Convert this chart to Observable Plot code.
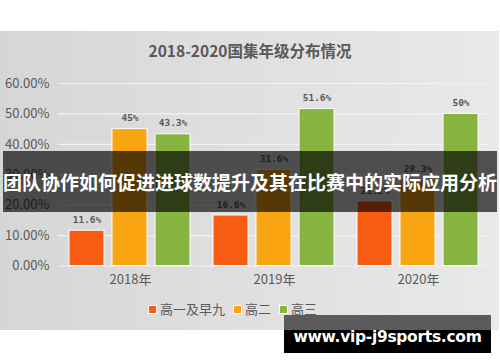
<!DOCTYPE html>
<html><head><meta charset="utf-8">
<script src="https://cdn.jsdelivr.net/npm/d3@7"></script>
<script src="https://cdn.jsdelivr.net/npm/@observablehq/plot@0.6"></script>
<style>
body{margin:0;background:#fff;font-family:"Noto Sans CJK SC","Noto Sans",sans-serif;}
#wrap{position:relative;width:500px;height:362px;overflow:hidden;background:#fff;}
#panel{position:absolute;left:0;top:31px;width:499px;height:299px;background:linear-gradient(to right,#d6d6d6,#e9e9e9);}
#title{position:absolute;left:0;top:39px;width:500px;text-align:center;font-weight:bold;font-size:15.5px;color:#595959;line-height:22px;}
#chart{position:absolute;left:0;top:0;}
#legend{position:absolute;top:300px;left:148px;font-size:13px;color:#595959;display:flex;align-items:center;line-height:18px;}
#legend span.sw{display:inline-block;width:7px;height:7px;border:1px solid #fff;margin-right:3px;}
#legend span.it{margin-right:8px;}
#banner{position:absolute;left:3px;top:151px;width:494px;height:61px;background:rgba(0,0,0,0.66);color:#fff;font-weight:bold;font-size:19px;line-height:61px;text-align:center;white-space:nowrap;letter-spacing:0px;}
#wm1{position:absolute;left:284px;top:315px;width:207px;height:15px;background:#5b5b5b;}
#wm2{position:absolute;left:284px;top:330px;width:207px;height:23px;background:#000;}
#wmt{position:absolute;left:284px;top:326px;width:207px;text-align:center;color:#fff;font-weight:bold;font-size:15.5px;line-height:22px;font-family:"DejaVu Sans",sans-serif;letter-spacing:-0.3px;}
</style></head>
<body><div id="wrap">
<div id="panel"></div>
<div id="title">2018-2020国集年级分布情况</div>
<div id="chart"></div>
<div id="legend"></div>
<div id="banner">团队协作如何促进进球数提升及其在比赛中的实际应用分析</div>
<div id="wm1"></div><div id="wm2"></div>
<div id="wmt">www.vip-j9sports.com</div>
</div>
<script>
const years = ["2018年","2019年","2020年"];
const grades = ["高一及早九","高二","高三"];
const colors = ["#f95b12","#f9a511","#88b442"];
const values = {
  "高一及早九": [11.6, 16.6, 21.2],
  "高二": [45, 31.6, 28.3],
  "高三": [43.3, 51.6, 50]
};
const yTicks = [0,10,20,30,40,50,60];

const data = [];
years.forEach((yr,i)=>grades.forEach(g=>data.push({year:yr,grade:g,value:values[g][i]})));

const fmt = v => `${v}%`;
const font = "'Noto Sans CJK SC','Noto Sans',sans-serif";

const plot = Plot.plot({
  width: 500, height: 300,
  marginTop: 83, marginBottom: 34.5, marginLeft: 57, marginRight: 10,
  style: {background: "transparent", fontFamily: font, color: "#595959", overflow: "visible"},
  fx: {domain: years, padding: 0, label: null, axis: "bottom", tickSize: 0, tickPadding: 9},
  x: {domain: grades, paddingInner: 0.186, paddingOuter: 0.25, axis: null},
  y: {domain: [0, 60], label: null, ticks: yTicks, tickSize: 0, tickPadding: 9, tickFormat: d => d.toFixed(2) + "%"},
  color: {domain: grades, range: colors},
  marks: [
    Plot.ruleY(yTicks, {stroke: "#f2f2f2", strokeWidth: 1.2}),
    Plot.barY(data, {fx: "year", x: "grade", y: "value", fill: "grade", stroke: "#fff", strokeWidth: 1}),
    Plot.text(data, {fx: "year", x: "grade", y: "value", text: d => fmt(d.value), dy: -11, fill: "#595959", fontSize: 9.5, fontWeight: "bold", fontFamily: "'DejaVu Sans Mono',monospace"})
  ]
});
plot.querySelectorAll("g[aria-label='y-axis tick label'], g[aria-label='fx-axis tick label']").forEach(g=>{g.setAttribute("font-size","13");g.setAttribute("fill","#595959");});
document.getElementById("chart").appendChild(plot);

const lg = document.getElementById("legend");
grades.forEach((g,i)=>{
  const s = document.createElement("span"); s.className="sw"; s.style.background=colors[i]; lg.appendChild(s);
  const t = document.createElement("span"); t.className="it"; t.textContent=g; lg.appendChild(t);
});
</script>
</body></html>
